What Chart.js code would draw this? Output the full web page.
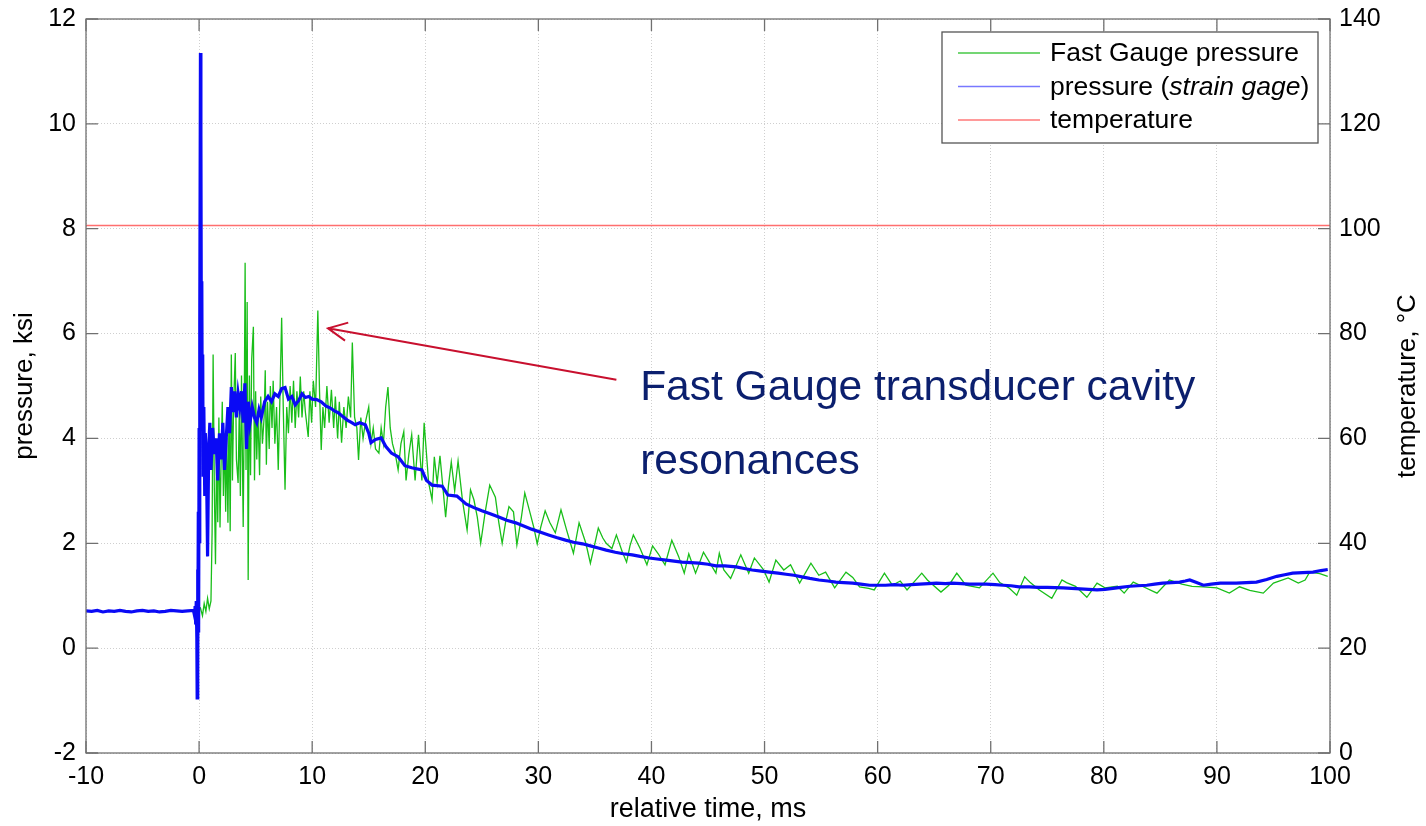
<!DOCTYPE html>
<html>
<head>
<meta charset="utf-8">
<script src="https://cdn.jsdelivr.net/npm/chart.js@4.4.1/dist/chart.umd.min.js"></script>
<style>
  html, body { margin: 0; padding: 0; background: #fff; }
  #wrap { width: 1426px; height: 826px; }
</style>
</head>
<body>
<div id="wrap"><canvas id="chart" width="1426" height="826"></canvas></div>
<script>
// tick labels
const timeTicks = [-10, 0, 10, 20, 30, 40, 50, 60, 70, 80, 90, 100];
const pressureTicks = [-2, 0, 2, 4, 6, 8, 10, 12];
const tempTicks = [0, 20, 40, 60, 80, 100, 120, 140];

// Fast Gauge pressure, ksi
const fastTime = [
  0.1, 0.3, 0.45, 0.6, 0.75, 0.9, 1.05, 1.15, 1.24, 1.35, 1.45, 1.55, 1.65, 1.75, 1.85, 1.95,
  2.05, 2.15, 2.25, 2.35, 2.45, 2.55, 2.65, 2.75, 2.85, 2.95, 3.05, 3.2, 3.3, 3.45, 3.55, 3.65,
  3.75, 3.9, 4.0, 4.07, 4.15, 4.25, 4.34, 4.45, 4.55, 4.65, 4.8, 4.9, 5.0, 5.1, 5.2, 5.35,
  5.45, 5.6, 5.75, 5.85, 5.95, 6.05, 6.2, 6.3, 6.45, 6.55, 6.7, 6.85, 7.0, 7.15, 7.3, 7.45,
  7.6, 7.75, 7.9, 8.05, 8.2, 8.35, 8.5, 8.65, 8.8, 8.95, 9.1, 9.25, 9.4, 9.65, 9.8, 9.95,
  10.1, 10.3, 10.5, 10.65, 10.8, 10.95, 11.1, 11.3, 11.5, 11.7, 11.9, 12.05, 12.25, 12.4, 12.6, 12.8,
  13.0, 13.2, 13.4, 13.55, 13.75, 13.95, 14.1, 14.3, 14.5, 14.7, 15.0, 15.2, 15.4, 15.6, 15.9, 16.1,
  16.3, 16.5, 16.7, 16.9, 17.1, 17.35, 17.6, 17.85, 18.1, 18.3, 18.55, 18.8, 19.1, 19.4, 19.7, 19.9,
  20.3, 20.6, 20.8, 21.05, 21.3, 21.8, 22.05, 22.3, 22.6, 22.9, 23.3, 23.7, 24.0, 24.3, 24.6, 24.9,
  25.3, 25.7, 26.2, 26.5, 26.8, 27.1, 27.4, 27.8, 28.1, 28.5, 28.8, 29.3, 29.6, 29.9, 30.2, 30.6,
  31.0, 31.5, 32.0, 32.5, 33.1, 33.6, 34.2, 34.6, 35.0, 35.3, 35.7, 36.0, 36.5, 36.9, 37.4, 37.8,
  38.1, 38.4, 39.0, 39.6, 40.1, 40.6, 41.2, 41.8, 42.4, 42.9, 43.3, 43.9, 44.6, 45.1, 45.7, 46.0,
  46.4, 47.0, 47.9, 48.6, 49.1, 49.9, 50.4, 51.0, 51.7, 52.3, 53.1, 54.1, 54.8, 55.4, 56.2, 57.2,
  57.8, 58.4, 59.2, 59.7, 60.6, 61.3, 62.0, 62.6, 63.9, 64.4, 65.6, 66.3, 67.0, 67.8, 69.0, 70.2,
  70.8, 71.6, 72.3, 73.0, 73.5, 74.3, 75.4, 76.3, 76.7, 77.5, 78.5, 79.4, 80.1, 81.2, 81.8, 82.6,
  83.4, 84.7, 85.8, 86.9, 87.8, 88.8, 90.0, 91.1, 92.0, 92.9, 94.1, 95.0, 96.3, 97.2, 97.8, 98.2,
  99.1, 99.8
];
const fastPressure = [
  0.78, 0.62, 0.85, 0.7, 0.95, 0.75, 0.9, 2.2, 5.6, 3.0, 1.6, 3.8, 2.4, 4.4, 2.3, 3.6,
  4.7, 2.9, 4.1, 2.6, 4.0, 2.39, 4.6, 2.23, 5.6, 3.2, 4.6, 5.63, 3.6, 3.15, 4.5, 2.9,
  5.2, 2.31, 4.8, 7.35, 3.4, 6.6, 1.3, 5.2, 3.3, 5.5, 6.13, 3.2, 4.9, 3.6, 4.5, 3.3,
  4.8, 3.9, 4.4, 5.3, 3.5, 4.7, 3.8, 5.0, 4.2, 5.1, 3.9, 4.6, 3.4, 4.8, 6.3, 4.5,
  3.02, 4.6, 4.1, 5.0, 4.3, 5.1, 4.2, 4.9, 4.4, 5.18, 4.4, 4.9, 4.5, 4.03, 4.9, 4.3,
  5.1, 4.6, 6.44, 4.9, 3.78, 4.6, 4.2, 5.0, 4.3, 4.93, 4.2, 4.8, 4.0, 4.7, 3.92, 4.6,
  4.2, 4.8, 4.4, 5.83, 4.4, 4.2, 3.59, 4.4, 4.0, 4.3, 4.6, 3.9, 4.2, 3.8, 3.72, 4.2,
  3.9, 4.6, 4.98, 4.2, 3.9, 3.7, 3.4, 3.9, 4.13, 3.2, 3.7, 4.07, 3.2, 4.07, 3.2, 4.3,
  3.15, 2.83, 3.65, 3.15, 3.67, 2.5, 3.1, 3.55, 3.0, 3.57, 2.8, 2.25, 3.02, 2.83, 2.5, 2.0,
  2.6, 3.11, 2.88, 2.4, 2.0, 2.4, 2.7, 2.6, 1.97, 2.5, 2.96, 2.55, 2.3, 1.99, 2.3, 2.62,
  2.4, 2.2, 2.64, 2.25, 1.81, 2.39, 2.0, 1.62, 2.0, 2.29, 2.1, 2.0, 1.9, 2.16, 1.85, 1.64,
  1.95, 2.16, 1.9, 1.59, 1.95, 1.8, 1.59, 2.06, 1.75, 1.43, 1.8, 1.43, 1.83, 1.65, 1.43, 1.81,
  1.49, 1.33, 1.78, 1.43, 1.72, 1.5, 1.26, 1.68, 1.49, 1.59, 1.24, 1.62, 1.39, 1.45, 1.15, 1.45,
  1.35, 1.17, 1.14, 1.11, 1.43, 1.2, 1.28, 1.11, 1.43, 1.3, 1.07, 1.2, 1.43, 1.2, 1.15, 1.43,
  1.25, 1.15, 1.01, 1.36, 1.25, 1.11, 0.95, 1.3, 1.25, 1.18, 0.97, 1.24, 1.15, 1.18, 1.05, 1.26,
  1.18, 1.05, 1.3, 1.22, 1.18, 1.17, 1.15, 1.05, 1.17, 1.1, 1.05, 1.24, 1.34, 1.24, 1.3, 1.45,
  1.42, 1.37
];

// pressure from strain gage, ksi
const strainTime = [
  -10, -9.5, -9, -8.5, -8, -7.5, -7, -6.5, -6, -5.5, -5, -4.5, -4, -3.5, -3, -2.5,
  -2, -1.5, -1, -0.5, -0.4, -0.35, -0.3, -0.25, -0.2, -0.17, -0.14, -0.1, -0.07, -0.04, 0, 0.04,
  0.08, 0.12, 0.16, 0.2, 0.24, 0.28, 0.32, 0.36, 0.42, 0.5, 0.55, 0.65, 0.75, 0.85, 0.95, 1.05,
  1.2, 1.35, 1.5, 1.65, 1.8, 1.95, 2.1, 2.25, 2.4, 2.55, 2.7, 2.85, 3.0, 3.15, 3.3, 3.45,
  3.6, 3.75, 3.9, 4.05, 4.2, 4.35, 4.5, 4.7, 4.9, 5.1, 5.3, 5.5, 5.8, 6.1, 6.4, 6.7,
  7.0, 7.3, 7.6, 7.9, 8.2, 8.5, 8.8, 9.1, 9.4, 9.7, 10.0, 10.4, 10.8, 11.2, 11.6, 12.0,
  12.3, 12.7, 13.1, 13.5, 13.8, 14.2, 14.7, 15.0, 15.2, 15.6, 16.1, 16.5, 17.0, 17.6, 18.2, 18.8,
  19.7, 20.1, 20.6, 21.5, 22.0, 22.8, 23.6, 24.3, 25.0, 25.8, 26.5, 27.2, 28.0, 28.7, 29.4, 30.2,
  30.9, 31.6, 32.4, 33.1, 33.9, 34.6, 35.3, 36.0, 36.8, 37.5, 38.3, 39.0, 39.8, 40.5, 41.3, 42.0,
  42.7, 43.5, 44.2, 45.0, 45.7, 46.5, 47.5, 48.2, 48.9, 49.7, 50.4, 51.2, 51.9, 52.6, 53.3, 54.0,
  54.8, 55.6, 56.3, 57.0, 57.8, 58.5, 59.3, 60.0, 60.7, 61.5, 62.2, 63.0, 63.7, 64.5, 65.2, 66.0,
  66.6, 67.4, 68.1, 68.8, 69.6, 70.4, 71.1, 71.8, 72.5, 73.4, 74.2, 75.0, 76.4, 77.9, 79.4, 80.1,
  80.8, 81.5, 82.3, 83.0, 83.8, 84.5, 85.2, 86.0, 86.7, 87.2, 87.6, 88.2, 88.8, 89.5, 90.3, 91.0,
  91.7, 92.6, 93.5, 94.4, 95.3, 96.0, 96.7, 97.6, 98.5, 99.2, 99.8
];
const strainPressure = [
  0.71, 0.70, 0.72, 0.69, 0.71, 0.70, 0.72, 0.70, 0.69, 0.71, 0.72, 0.70, 0.71, 0.69, 0.70, 0.72,
  0.71, 0.70, 0.71, 0.72, 0.62, 0.8, 0.45, 0.9, 0.2, -0.95, 1.5, -0.4, 2.6, 0.3, 4.2, 2.0,
  6.2, 11.35, 9.8, 5.9, 7.0, 4.2, 5.6, 3.3, 4.6, 2.9, 4.1, 3.6, 1.75, 3.8, 4.3, 3.4,
  4.2, 3.7, 4.0, 3.2, 4.1, 3.6, 4.3, 3.4, 4.0, 4.6, 4.1, 4.98, 4.5, 4.9, 4.4, 4.85,
  4.6, 4.9, 4.3, 5.05, 3.8, 4.7, 4.3, 4.6, 4.4, 4.3, 4.55, 4.4, 4.7, 4.8, 4.7, 4.85,
  4.8, 4.95, 4.97, 4.75, 4.8, 4.64, 4.72, 4.85, 4.78, 4.8, 4.75, 4.74, 4.7, 4.62, 4.58, 4.52,
  4.49, 4.42, 4.35, 4.3, 4.26, 4.3, 4.26, 4.1, 3.92, 3.98, 4.01, 3.85, 3.72, 3.65, 3.48, 3.44,
  3.40, 3.2, 3.11, 3.09, 2.92, 2.9, 2.75, 2.68, 2.62, 2.56, 2.5, 2.44, 2.39, 2.33, 2.27, 2.21,
  2.16, 2.11, 2.06, 2.02, 1.99, 1.95, 1.91, 1.87, 1.83, 1.8, 1.78, 1.75, 1.72, 1.7, 1.68, 1.66,
  1.64, 1.63, 1.62, 1.6, 1.57, 1.57, 1.55, 1.52, 1.49, 1.47, 1.45, 1.43, 1.41, 1.39, 1.36, 1.33,
  1.3, 1.28, 1.26, 1.25, 1.24, 1.22, 1.2, 1.2, 1.2, 1.21, 1.2, 1.21, 1.22, 1.23, 1.24, 1.23,
  1.24, 1.23, 1.22, 1.22, 1.22, 1.21, 1.2, 1.19, 1.17, 1.17, 1.16, 1.16, 1.15, 1.13, 1.11, 1.12,
  1.14, 1.16, 1.18, 1.19, 1.2, 1.22, 1.24, 1.25, 1.26, 1.28, 1.3, 1.25, 1.2, 1.22, 1.24, 1.24,
  1.24, 1.25, 1.26, 1.31, 1.37, 1.4, 1.43, 1.44, 1.45, 1.48, 1.5
];

// temperature, °C
const tempTime = [-10, 100];
const tempValue = [100.6, 100.6];

// annotation (data coordinates)
const arrowTip = { x: 11.4, y: 6.1 };
const arrowTail = { x: 36.9, y: 5.12 };
const noteAt = { x: 39.0, y: 4.74 };
const noteLines = ['Fast Gauge transducer cavity', 'resonances'];

const FONT = '"Liberation Sans", Arial, sans-serif';

function pts(xs, ys) {
  return xs.map((x, i) => ({ x: x, y: ys[i] }));
}

const framePlugin = {
  id: 'frame',
  afterDatasetsDraw(chart) {
    const { ctx, scales } = chart;
    const x = scales.x, y = scales.y;
    // annotation arrow + text
    const tx = x.getPixelForValue(arrowTip.x), ty = y.getPixelForValue(arrowTip.y);
    const sx = x.getPixelForValue(arrowTail.x), sy = y.getPixelForValue(arrowTail.y);
    const ang = Math.atan2(sy - ty, sx - tx);
    ctx.save();
    ctx.strokeStyle = '#c8102e';
    ctx.lineWidth = 2;
    ctx.beginPath();
    ctx.moveTo(sx, sy);
    ctx.lineTo(tx, ty);
    ctx.moveTo(tx + 21 * Math.cos(ang - 0.45), ty + 21 * Math.sin(ang - 0.45));
    ctx.lineTo(tx, ty);
    ctx.lineTo(tx + 21 * Math.cos(ang + 0.45), ty + 21 * Math.sin(ang + 0.45));
    ctx.stroke();
    ctx.fillStyle = '#0b1f6e';
    ctx.font = '42.5px ' + FONT;
    ctx.textBaseline = 'alphabetic';
    const nx = x.getPixelForValue(noteAt.x), ny = y.getPixelForValue(noteAt.y);
    noteLines.forEach((t, i) => ctx.fillText(t, nx, ny + i * 74));
    ctx.restore();
  },
  afterDraw(chart) {
    const { ctx, chartArea: a, scales } = chart;
    ctx.save();
    // box + inward ticks
    ctx.strokeStyle = '#707070';
    ctx.lineWidth = 1.3;
    ctx.strokeRect(a.left, a.top, a.right - a.left, a.bottom - a.top);
    ctx.beginPath();
    scales.x.ticks.forEach(t => {
      const p = scales.x.getPixelForValue(t.value);
      ctx.moveTo(p, a.bottom); ctx.lineTo(p, a.bottom - 12);
      ctx.moveTo(p, a.top); ctx.lineTo(p, a.top + 12);
    });
    scales.y.ticks.forEach(t => {
      const p = scales.y.getPixelForValue(t.value);
      ctx.moveTo(a.left, p); ctx.lineTo(a.left + 12, p);
    });
    scales.y1.ticks.forEach(t => {
      const p = scales.y1.getPixelForValue(t.value);
      ctx.moveTo(a.right, p); ctx.lineTo(a.right - 12, p);
    });
    ctx.stroke();

    // right axis title, reading bottom to top
    ctx.fillStyle = '#000';
    ctx.font = '26px ' + FONT;
    ctx.textAlign = 'center';
    ctx.textBaseline = 'middle';
    ctx.translate(1408, (a.top + a.bottom) / 2);
    ctx.rotate(-Math.PI / 2);
    ctx.fillText('temperature, °C', 0, 0);
    ctx.setTransform(1, 0, 0, 1, 0, 0);

    // legend
    const lw = 376, lh = 111;
    const lx = a.right - 12 - lw, ly = a.top + 13;
    ctx.fillStyle = '#fff';
    ctx.fillRect(lx, ly, lw, lh);
    ctx.strokeStyle = '#555';
    ctx.lineWidth = 1.3;
    ctx.strokeRect(lx, ly, lw, lh);
    const rows = [
      { c: 'rgb(70,200,70)', parts: [['Fast Gauge pressure', '']] },
      { c: 'rgb(120,120,255)', parts: [['pressure (', ''], ['strain gage', 'italic '], [')', '']] },
      { c: 'rgb(255,120,120)', parts: [['temperature', '']] }
    ];
    ctx.textAlign = 'left';
    ctx.textBaseline = 'middle';
    rows.forEach((r, i) => {
      const ry = ly + 21 + i * 33.5;
      ctx.strokeStyle = r.c;
      ctx.lineWidth = 1.5;
      ctx.beginPath();
      ctx.moveTo(lx + 16, ry); ctx.lineTo(lx + 98, ry);
      ctx.stroke();
      let cx = lx + 108;
      ctx.fillStyle = '#000';
      r.parts.forEach(p => {
        ctx.font = p[1] + '26.5px ' + FONT;
        ctx.fillText(p[0], cx, ry + 1);
        cx += ctx.measureText(p[0]).width;
      });
    });
    ctx.restore();
  }
};

function setTicks(list) {
  return function (scale) {
    scale.ticks = list.map(v => ({ value: v }));
  };
}

// fixed axis sizes so the plot box sits where the original one does
function fixWidth(w) {
  return function (s) {
    s.width = w;
    s.paddingTop = 0;
    s.paddingBottom = 0;
  };
}

const gridOpts = { color: '#cfcfcf', lineWidth: 1, drawTicks: false };

new Chart(document.getElementById('chart'), {
  type: 'line',
  data: {
    datasets: [
      {
        label: 'Fast Gauge pressure',
        data: pts(fastTime, fastPressure),
        borderColor: 'rgb(25,190,25)',
        borderWidth: 1.3,
        pointRadius: 0,
        tension: 0,
        yAxisID: 'y',
        order: 2
      },
      {
        label: 'pressure (strain gage)',
        data: pts(strainTime, strainPressure),
        borderColor: 'rgb(10,10,245)',
        borderWidth: 3.2,
        pointRadius: 0,
        tension: 0,
        yAxisID: 'y',
        order: 1
      },
      {
        label: 'temperature',
        data: pts(tempTime, tempValue),
        borderColor: 'rgb(255,110,110)',
        borderWidth: 1.5,
        pointRadius: 0,
        tension: 0,
        yAxisID: 'y1',
        order: 3
      }
    ]
  },
  options: {
    responsive: false,
    animation: false,
    layout: { padding: { top: 19, left: 0, right: 0, bottom: 0 } },
    plugins: { legend: { display: false }, tooltip: { enabled: false } },
    scales: {
      x: {
        type: 'linear',
        min: -10, max: 100,
        afterBuildTicks: setTicks(timeTicks),
        afterFit: s => { s.height = 73; },
        grid: gridOpts,
        border: { display: false, dash: [1, 2] },
        ticks: { color: '#000', padding: 9, font: { family: FONT, size: 25 } },
        title: { display: true, text: 'relative time, ms', color: '#000', padding: { top: 0, bottom: 0 }, font: { family: FONT, size: 27 } }
      },
      y: {
        type: 'linear',
        position: 'left',
        min: -2, max: 12,
        afterBuildTicks: setTicks(pressureTicks),
        afterFit: fixWidth(86),
        grid: gridOpts,
        border: { display: false, dash: [1, 2] },
        ticks: { color: '#000', padding: 10, font: { family: FONT, size: 25 } },
        title: { display: true, text: 'pressure, ksi', color: '#000', padding: { top: 9, bottom: 0 }, font: { family: FONT, size: 26 } }
      },
      y1: {
        type: 'linear',
        position: 'right',
        min: 0, max: 140,
        afterBuildTicks: setTicks(tempTicks),
        afterFit: fixWidth(96),
        grid: { drawOnChartArea: false, drawTicks: false },
        border: { display: false },
        ticks: { color: '#000', padding: 9, font: { family: FONT, size: 25 } }
      }
    }
  },
  plugins: [framePlugin]
});
</script>
</body>
</html>
